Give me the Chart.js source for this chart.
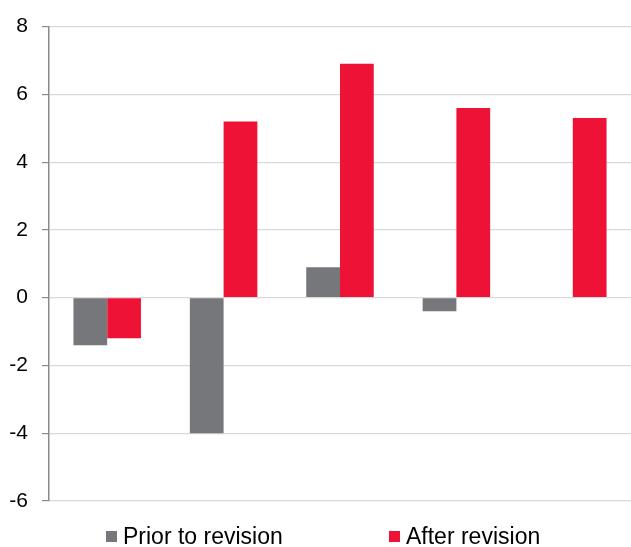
<!DOCTYPE html>
<html>
<head>
<meta charset="utf-8">
<script src="https://cdn.jsdelivr.net/npm/chart.js@4"></script>
<style>
  html, body { margin:0; padding:0; background:#fff; }
  #wrap { position:relative; width:631px; height:547px; }
  #legend { position:absolute; left:0; top:0; width:631px; height:547px; pointer-events:none;
            font-family:"Liberation Sans", Arial, sans-serif; font-size:23px; color:#000; }
  .lg-box { position:absolute; width:11px; height:11px; }
  .lg-txt { position:absolute; line-height:23px; white-space:nowrap; }
</style>
</head>
<body>
<div id="wrap">
  <canvas id="c" width="631" height="547"></canvas>
  <div id="legend"></div>
</div>
<script>
const categories = ['Group 1', 'Group 2', 'Group 3', 'Group 4', 'Group 5'];
const seriesNames = ['Prior to revision', 'After revision'];
const priorValues = [-1.4, -4.0, 0.9, -0.4, null];
const afterValues = [-1.2, 5.2, 6.9, 5.6, 5.3];
const yTicks = [-6, -4, -2, 0, 2, 4, 6, 8];
const seriesColors = ['#76777b', '#ee1237'];

const chart = new Chart(document.getElementById('c'), {
  type: 'bar',
  data: {
    labels: categories,
    datasets: [
      { label: seriesNames[0], data: priorValues, backgroundColor: seriesColors[0], borderWidth: 0 },
      { label: seriesNames[1], data: afterValues, backgroundColor: seriesColors[1], borderWidth: 0 }
    ]
  },
  options: {
    responsive: false,
    animation: false,
    devicePixelRatio: 1,
    categoryPercentage: 0.58,
    barPercentage: 1.0,
    layout: { padding: { top: 25, bottom: 46, left: 0, right: 0 } },
    plugins: { legend: { display: false }, tooltip: { enabled: false } },
    scales: {
      x: { display: false, grid: { display: false } },
      y: {
        min: yTicks[0], max: yTicks[yTicks.length - 1],
        afterBuildTicks: (axis) => { axis.ticks = yTicks.map(v => ({ value: v })); },
        afterFit: (axis) => { axis.width = 49; },
        ticks: {
          font: { family: '"Liberation Sans", Arial, sans-serif', size: 21 },
          color: '#000', padding: 14
        },
        grid: { color: '#d9d9d9', lineWidth: 1.2, tickLength: 7, tickColor: '#8a8a8a', drawTicks: true },
        border: { display: true, color: '#8a8a8a', width: 1.5 }
      }
    }
  }
});

// HTML legend built from dataset names/colors
const legendPos = [{ box: 106, text: 123 }, { box: 389, text: 406 }];
const lg = document.getElementById('legend');
seriesNames.forEach((name, i) => {
  const b = document.createElement('div');
  b.className = 'lg-box';
  b.style.left = legendPos[i].box + 'px';
  b.style.top = '531px';
  b.style.background = seriesColors[i];
  lg.appendChild(b);
  const t = document.createElement('div');
  t.className = 'lg-txt';
  t.style.left = legendPos[i].text + 'px';
  t.style.top = '524.5px';
  t.textContent = name;
  lg.appendChild(t);
});
</script>
</body>
</html>
